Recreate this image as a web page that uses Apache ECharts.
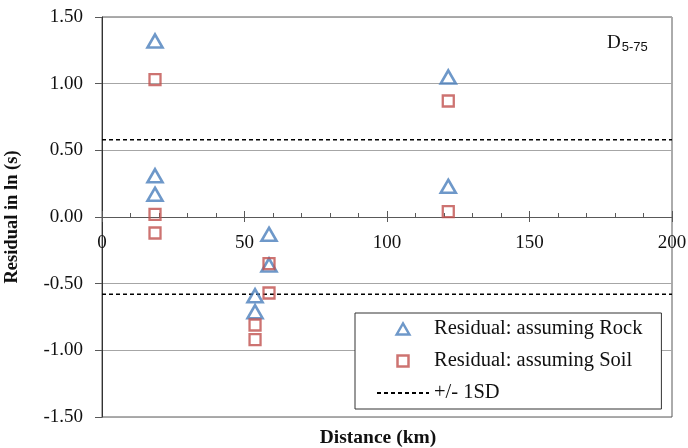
<!DOCTYPE html>
<html><head><meta charset="utf-8">
<script src="https://cdn.jsdelivr.net/npm/echarts@6/dist/echarts.min.js"></script>
<style>html,body{margin:0;padding:0;background:#fff}#c{width:688px;height:448px}</style>
</head><body><div id="c"></div>
<script>
// Data
const rockDistance = [18.6, 18.6, 18.6, 58.6, 58.6, 53.7, 53.7, 121.5, 121.5];
const rockResidual = [1.32, 0.31, 0.17, -0.13, -0.36, -0.59, -0.71, 1.05, 0.23];
const soilDistance = [18.6, 18.6, 18.6, 58.6, 58.6, 53.7, 53.7, 121.5, 121.5];
const soilResidual = [1.03, 0.02, -0.12, -0.35, -0.57, -0.81, -0.92, 0.87, 0.04];
const sdValue = 0.58;
const xRange = [0, 200];
const yRange = [-1.5, 1.5];
const seriesNames = ['Residual: assuming Rock', 'Residual: assuming Soil', '+/- 1SD'];

const FONT = 'Liberation Serif';
const toPairs = (xs, ys) => xs.map((x, i) => [x, ys[i]]);
const PLOT_H = 448 - 17 - 31;
// x axis crosses the y axis at 0: shift it up from the grid bottom
const zeroOffset = -PLOT_H * (0 - yRange[0]) / (yRange[1] - yRange[0]);
const gridBox = {left: 102, right: 16, top: 17, bottom: 31, outerBoundsMode: 'none', containLabel: false};

const chart = echarts.init(document.getElementById('c'), null, {renderer: 'canvas'});
chart.setOption({
  animation: false,
  backgroundColor: '#fff',
  textStyle: {fontFamily: FONT},
  grid: [
    Object.assign({show: true, borderColor: '#595959', borderWidth: 1}, gridBox),
    Object.assign({show: false}, gridBox)
  ],
  title: [
    {text: 'Distance (km)', left: 373, top: 423, textAlign: 'center',
     textStyle: {fontFamily: FONT, fontSize: 19.5, fontWeight: 'bold', color: '#111'}},
    {text: 'D{s|5-75}', left: 602, top: 28,
     textStyle: {fontFamily: FONT, fontSize: 19, fontWeight: 'normal', color: '#111',
       rich: {s: {fontFamily: 'Liberation Sans', fontSize: 13, color: '#111', verticalAlign: 'bottom', padding: [8, 0, 0, 1]}}}}
  ],
  legend: {
    orient: 'vertical', left: 355, top: 313,
    padding: [5, 19, 5, 21], itemGap: 10, itemWidth: 52, itemHeight: 11,
    symbolKeepAspect: true,
    backgroundColor: '#fff', borderColor: '#333', borderWidth: 1,
    itemStyle: {borderWidth: 2.5},
    textStyle: {fontFamily: FONT, fontSize: 20.5, color: '#111', lineHeight: 22},
    data: [
      {name: seriesNames[0], icon: 'path://M0,13L7.5,0L15,13Z'},
      {name: seriesNames[1], icon: 'path://M0,0L10,0L10,10L0,10Z'},
      {name: seriesNames[2]}
    ],
    selectedMode: false
  },
  xAxis: [{
    gridIndex: 0, type: 'value', min: xRange[0], max: xRange[1], interval: 50,
    position: 'bottom', offset: zeroOffset,
    axisLine: {onZero: false, lineStyle: {color: '#595959', width: 1}},
    axisTick: {show: true, inside: true, length: 6, lineStyle: {color: '#595959'}},
    minorTick: {show: true, splitNumber: 5, length: 4, lineStyle: {color: '#595959'}},
    axisLabel: {fontFamily: FONT, fontSize: 19, color: '#111', margin: 17},
    splitLine: {show: false}
  }, {
    gridIndex: 1, type: 'value', min: xRange[0], max: xRange[1], interval: 50,
    position: 'bottom', offset: zeroOffset,
    axisLine: {show: false, onZero: false},
    axisTick: {show: true, inside: false, length: 5, lineStyle: {color: '#595959'}},
    axisLabel: {show: false},
    splitLine: {show: false}
  }],
  yAxis: [{
    gridIndex: 0, type: 'value', min: yRange[0], max: yRange[1], interval: 0.5,
    name: 'Residual in ln (s)', nameLocation: 'middle', nameGap: 80, nameRotate: 90,
    nameTextStyle: {fontFamily: FONT, fontSize: 18.5, fontWeight: 'bold', color: '#111'},
    axisLine: {show: true, onZero: false, lineStyle: {color: '#333', width: 1}},
    axisTick: {show: true, length: 7, lineStyle: {color: '#595959'}},
    axisLabel: {fontFamily: FONT, fontSize: 19, color: '#111', margin: 19,
      formatter: v => v.toFixed(2)},
    splitLine: {show: true, lineStyle: {color: '#a6a6a6', width: 1}}
  }, {
    gridIndex: 1, type: 'value', min: yRange[0], max: yRange[1], interval: 0.5,
    axisLine: {show: false, onZero: false}, axisTick: {show: false}, axisLabel: {show: false}, splitLine: {show: false}
  }],
  series: [
    {name: seriesNames[2], type: 'line', data: [[xRange[0], sdValue], [xRange[1], sdValue]],
     symbol: 'none', itemStyle: {color: 'rgba(0,0,0,0)'},
     lineStyle: {color: '#000', width: 1.5, type: [4, 3]}, silent: true, z: 2},
    {name: seriesNames[2], type: 'line', data: [[xRange[0], -sdValue], [xRange[1], -sdValue]],
     symbol: 'none', itemStyle: {color: 'rgba(0,0,0,0)'},
     lineStyle: {color: '#000', width: 1.5, type: [4, 3]}, silent: true, z: 2},
    {name: seriesNames[0], type: 'scatter', data: toPairs(rockDistance, rockResidual),
     symbol: 'triangle', symbolSize: [15, 13],
     itemStyle: {color: 'rgba(255,255,255,0)', borderColor: '#4a7ebb', borderWidth: 2.6},
     emphasis: {disabled: true}, z: 3},
    {name: seriesNames[1], type: 'scatter', data: toPairs(soilDistance, soilResidual),
     symbol: 'rect', symbolSize: 11,
     itemStyle: {color: 'rgba(255,255,255,0)', borderColor: '#c0504d', borderWidth: 2.3},
     emphasis: {disabled: true}, z: 4}
  ]
});
</script></body></html>
